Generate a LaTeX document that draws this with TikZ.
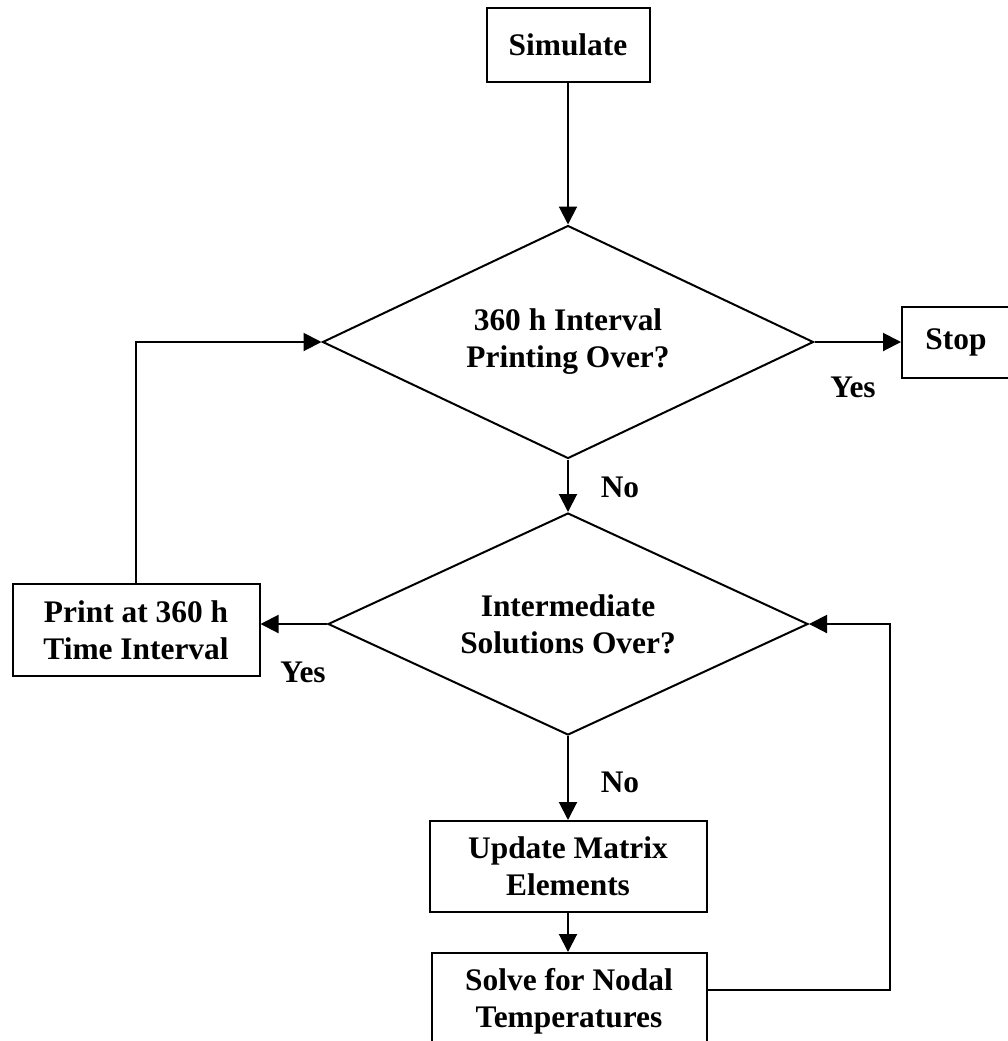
\documentclass[tikz,border=0pt]{standalone}
\usepackage{fontspec}
\setmainfont{Liberation Serif}
\usepackage{tikz}
\usetikzlibrary{arrows.meta,calc,shapes.geometric}
\definecolor{ink}{HTML}{000000}
\tikzset{
  >={Triangle[length=9pt,width=9pt]},
  flow/.style={->,line width=1pt,draw=ink},
  base/.style={draw=ink,line width=1pt,align=center,inner sep=0pt,
               font=\fontsize{15.7pt}{18.5pt}\selectfont\bfseries},
  process/.style={base,rectangle},
  decision/.style={base,diamond,aspect=2.1},
  tag/.style={inner sep=0pt,font=\fontsize{15.7pt}{18.5pt}\selectfont\bfseries}
}
\begin{document}
\begin{tikzpicture}[x=0.5pt,y=-0.5pt]
  \useasboundingbox (0,0) rectangle (1008,1041);
  \node[process,minimum width=81.5pt,minimum height=37pt] (sim) at (568,45) {Simulate};
  \node[decision,minimum width=245.5pt,minimum height=116.5pt] (print?) at (568,342) {360 h Interval\\Printing Over?};
  \node[process,minimum width=54pt,minimum height=35.5pt] (stop) at (956,342) {Stop};
  \node[decision,minimum width=240pt,minimum height=111pt] (inter?) at (568,624) {Intermediate\\Solutions Over?};
  \node[process,minimum width=123.5pt,minimum height=46pt] (print) at (136,630) {Print at 360 h\\Time Interval};
  \node[process,minimum width=138.5pt,minimum height=45.5pt] (update) at (568,866.5) {Update Matrix\\Elements};
  \node[process,minimum width=137.5pt,minimum height=48.5pt] (solve) at (569,1001.5) {Solve for Nodal\\Temperatures};
  \node[tag] (yes1) at (853,387) {Yes};
  \node[tag] (no1) at (620,487) {No};
  \node[tag] (yes2) at (303,672) {Yes};
  \node[tag] (no2) at (620,782) {No};
  \coordinate (back) at (890,990);
  \draw[flow] (sim.south) -- (print?.north);
  \draw[flow] (print?.east) -- (stop.west);
  \draw[flow] (print?.south) -- (inter?.north);
  \draw[flow] (inter?.west) -- (inter?.west -| print.east);
  \draw[flow] (print.north) |- (print?.west);
  \draw[flow] (inter?.south) -- (update.north);
  \draw[flow] (update.south) -- (update.south |- solve.north);
  \draw[flow] (solve.east |- back) -- (back) |- (inter?.east);
\end{tikzpicture}
\end{document}
